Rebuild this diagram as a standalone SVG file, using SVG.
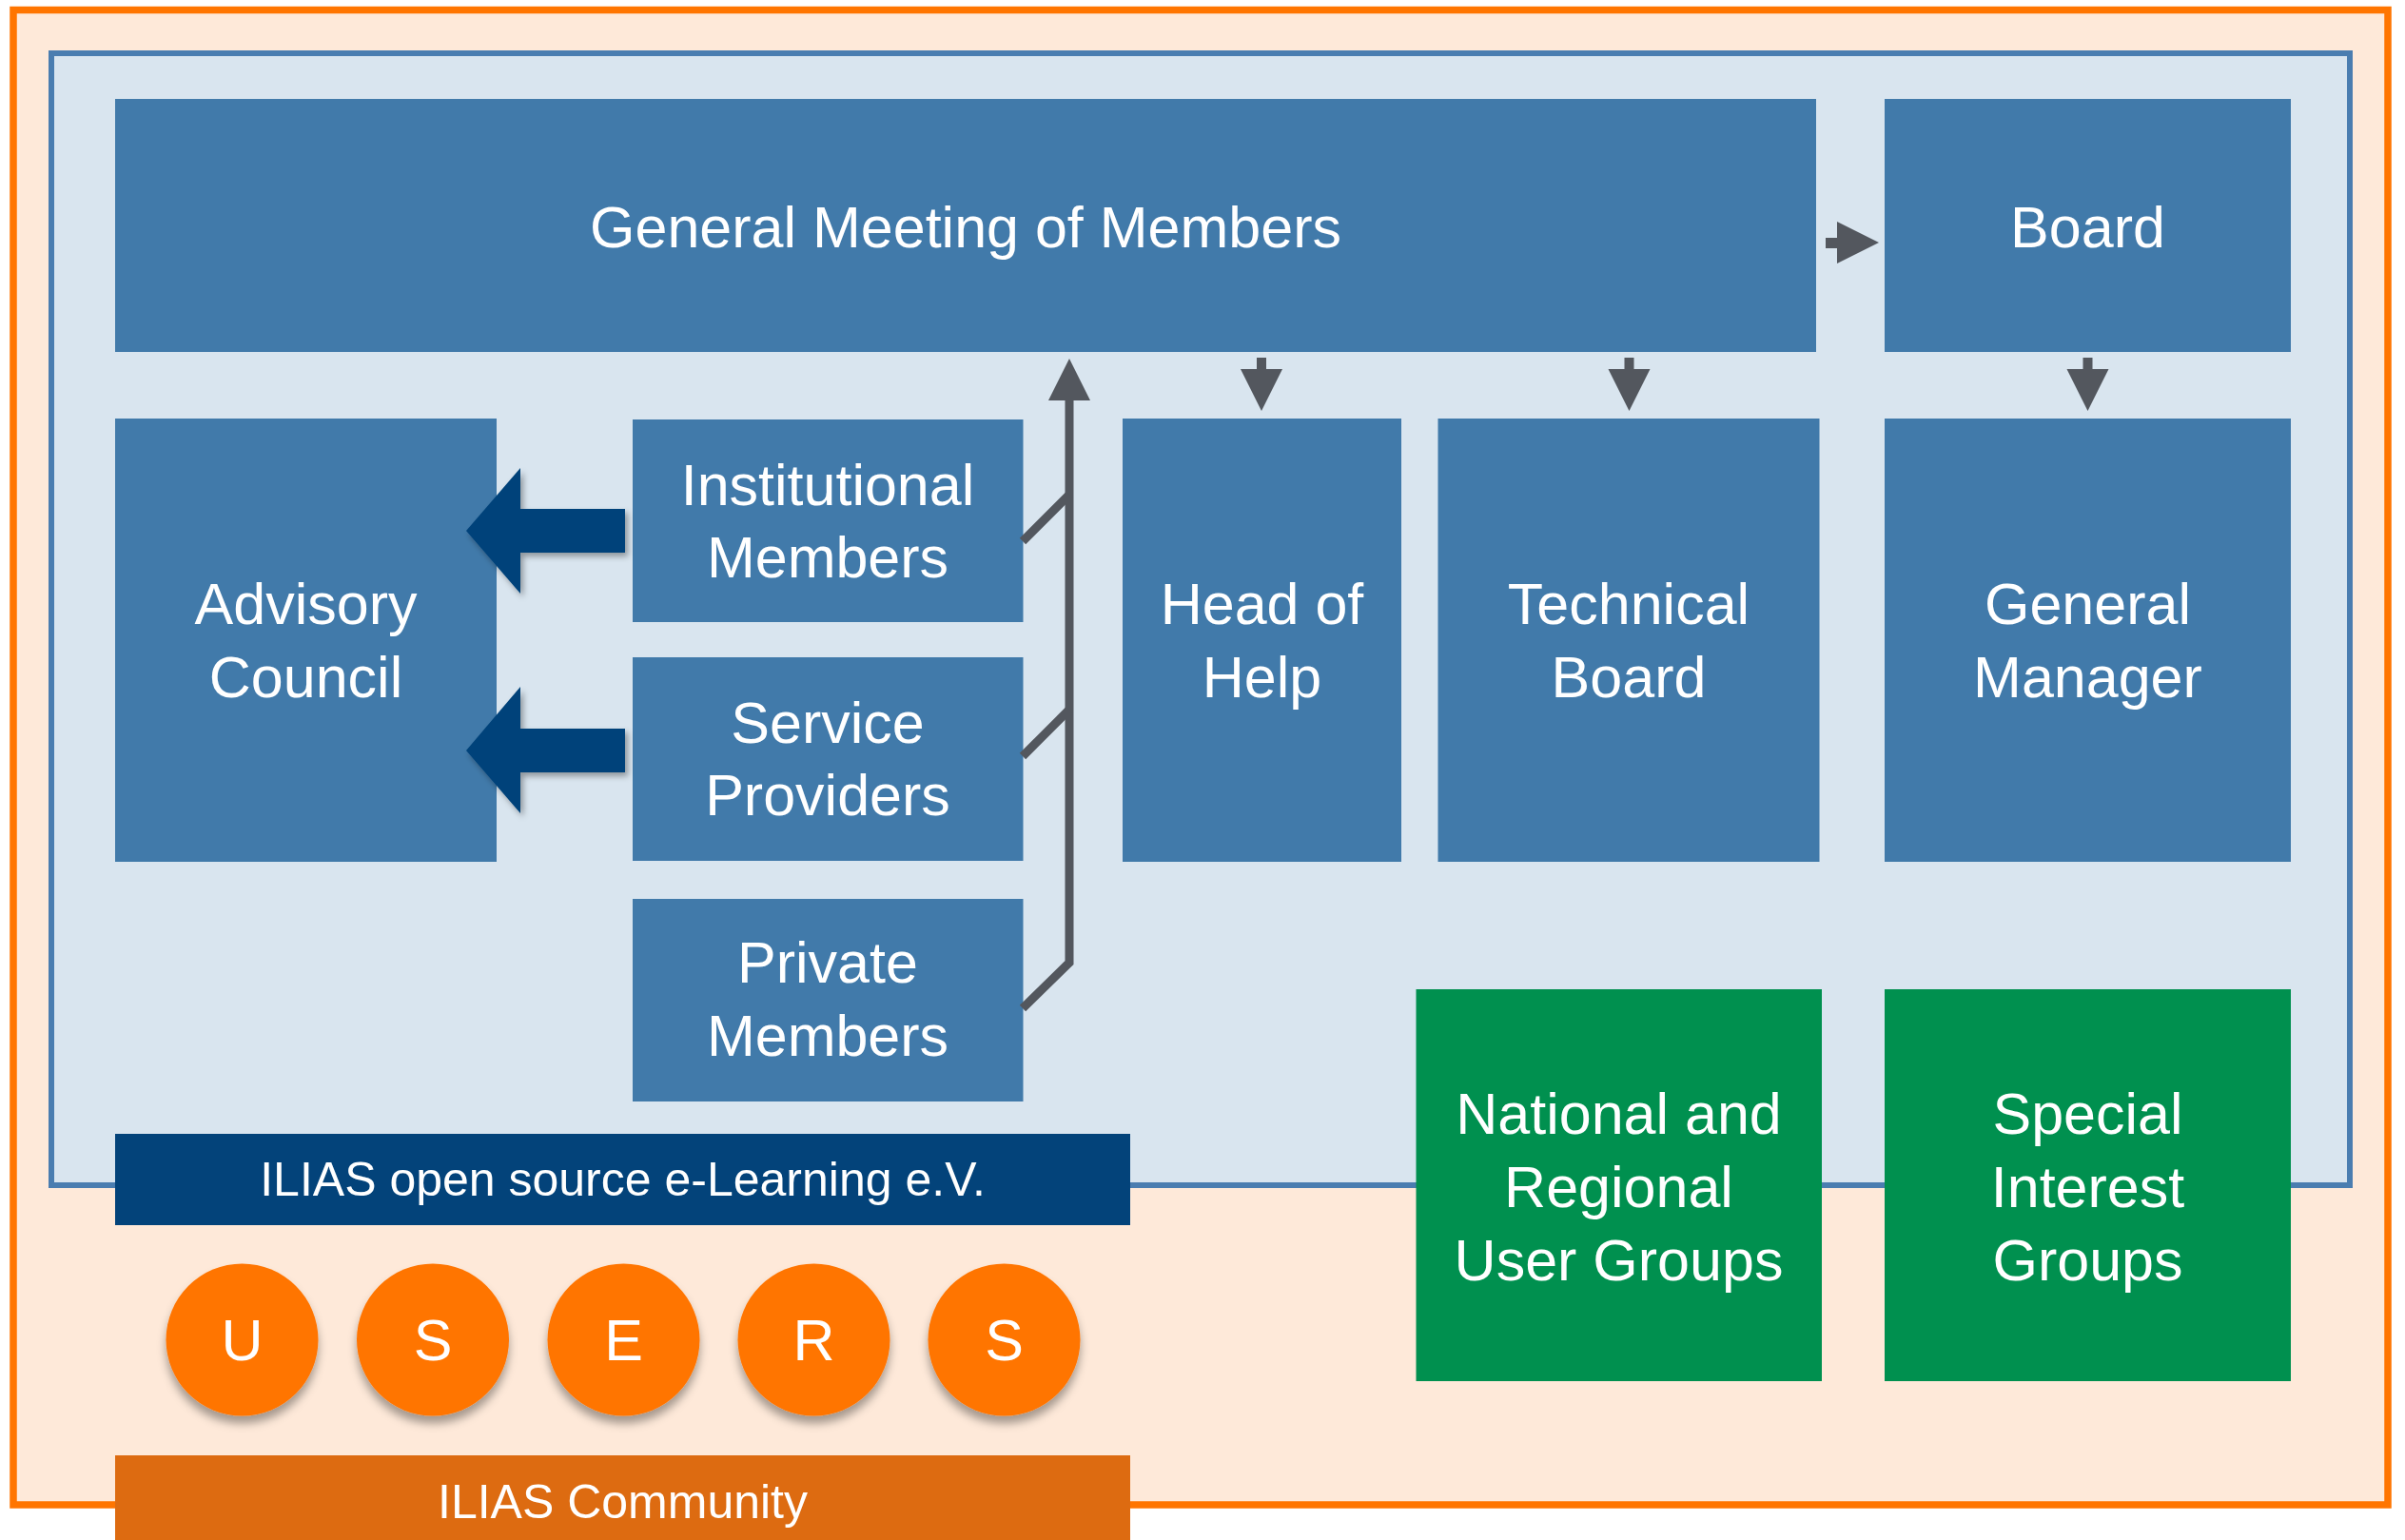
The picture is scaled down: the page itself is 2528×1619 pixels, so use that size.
<svg xmlns="http://www.w3.org/2000/svg" width="2528" height="1619" viewBox="0 0 2528 1619">
<defs>
<style>
.box{fill:#417AAA}
.green{fill:#00904F}
.t{font-family:"Liberation Sans",Arial,sans-serif;font-size:61px;fill:#FFFFFF;text-anchor:middle}
.s{font-family:"Liberation Sans",Arial,sans-serif;font-size:50px;fill:#FFFFFF;text-anchor:middle}
.gray{fill:#53575E}
.conn{fill:none;stroke:#53575E;stroke-width:9;stroke-linejoin:miter}
.navy{fill:#03437A}
.user{fill:#FF7500}
</style>
<filter id="sh" x="-20%" y="-20%" width="150%" height="160%">
<feDropShadow dx="3" dy="4" stdDeviation="3" flood-color="#000" flood-opacity="0.35"/>
</filter>
<filter id="csh" x="-30%" y="-30%" width="160%" height="170%">
<feDropShadow dx="0" dy="8" stdDeviation="5" flood-color="#000" flood-opacity="0.35"/>
</filter>
</defs>
<rect x="0" y="0" width="2528" height="1619" fill="#FFFFFF"/>
<g id="community-frame">
<rect x="14" y="10.5" width="2496" height="1571.5" fill="#FEE9D9" stroke="#FF7500" stroke-width="7.5"/>
</g>
<g id="association-frame">
<rect x="54" y="56" width="2416" height="1190" fill="#D9E5EF" stroke="#4A7DB0" stroke-width="6"/>
</g>
<g id="general-meeting">
<rect class="box" x="121" y="104" width="1788" height="266"/>
<text class="t" x="1015" y="260">General Meeting of Members</text>
</g>
<g id="board">
<rect class="box" x="1981" y="104" width="427" height="266"/>
<text class="t" x="2194.5" y="260">Board</text>
</g>
<g id="advisory-council">
<rect class="box" x="121" y="440" width="401" height="466"/>
<text class="t" x="321.5" y="656">Advisory</text>
<text class="t" x="321.5" y="733">Council</text>
</g>
<g id="institutional-members">
<rect class="box" x="665" y="441" width="410.5" height="213"/>
<text class="t" x="870" y="531">Institutional</text>
<text class="t" x="870" y="607">Members</text>
</g>
<g id="service-providers">
<rect class="box" x="665" y="691" width="410.5" height="214"/>
<text class="t" x="870" y="781">Service</text>
<text class="t" x="870" y="857">Providers</text>
</g>
<g id="private-members">
<rect class="box" x="665" y="945" width="410.5" height="213"/>
<text class="t" x="870" y="1033">Private</text>
<text class="t" x="870" y="1110">Members</text>
</g>
<g id="head-of-help">
<rect class="box" x="1180" y="440" width="293" height="466"/>
<text class="t" x="1326.5" y="656">Head of</text>
<text class="t" x="1326.5" y="733">Help</text>
</g>
<g id="technical-board">
<rect class="box" x="1511.5" y="440" width="401" height="466"/>
<text class="t" x="1712" y="656">Technical</text>
<text class="t" x="1712" y="733">Board</text>
</g>
<g id="general-manager">
<rect class="box" x="1981" y="440" width="427" height="466"/>
<text class="t" x="2194.5" y="656">General</text>
<text class="t" x="2194.5" y="733">Manager</text>
</g>
<g id="connectors">
<polygon class="gray" points="1919,250 1931,250 1931,233 1975,255 1931,277 1931,261 1919,261"/>
<polygon class="gray" points="1321,376 1331,376 1331,388 1348,388 1326,432 1304,388 1321,388"/>
<polygon class="gray" points="1707.5,376 1717.5,376 1717.5,388 1734.5,388 1712.5,432 1690.5,388 1707.5,388"/>
<polygon class="gray" points="2189.5,376 2199.5,376 2199.5,388 2216.5,388 2194.5,432 2172.5,388 2189.5,388"/>
<polyline class="conn" points="1075,1060 1124,1012 1124,418"/>
<polyline class="conn" points="1075,569 1124,520"/>
<polyline class="conn" points="1075,795 1124,746"/>
<polygon class="gray" points="1124,377 1146,421 1102,421"/>
<polygon class="navy" filter="url(#sh)" points="490,558 547,492 547,535 657,535 657,581 547,581 547,624"/>
<polygon class="navy" filter="url(#sh)" points="490,789 547,722 547,766 657,766 657,812 547,812 547,855"/>
</g>
<g id="ilias-ev">
<rect x="121" y="1192" width="1067" height="96" fill="#03437A"/>
<text class="s" x="654.5" y="1257">ILIAS open source e-Learning e.V.</text>
</g>
<g id="national-regional-user-groups">
<rect class="green" x="1488.5" y="1040" width="426.5" height="412"/>
<text class="t" x="1701.5" y="1192">National and</text>
<text class="t" x="1701.5" y="1268.5">Regional</text>
<text class="t" x="1701.5" y="1345.5">User Groups</text>
</g>
<g id="special-interest-groups">
<rect class="green" x="1981" y="1040" width="427" height="412"/>
<text class="t" x="2194.5" y="1192">Special</text>
<text class="t" x="2194.5" y="1268.5">Interest</text>
<text class="t" x="2194.5" y="1345.5">Groups</text>
</g>
<g id="users">
<g id="user-u"><circle class="user" filter="url(#csh)" cx="254.5" cy="1408.5" r="80"/><text class="t" x="254.5" y="1430">U</text></g>
<g id="user-s1"><circle class="user" filter="url(#csh)" cx="455" cy="1408.5" r="80"/><text class="t" x="455" y="1430">S</text></g>
<g id="user-e"><circle class="user" filter="url(#csh)" cx="655.5" cy="1408.5" r="80"/><text class="t" x="655.5" y="1430">E</text></g>
<g id="user-r"><circle class="user" filter="url(#csh)" cx="855.5" cy="1408.5" r="80"/><text class="t" x="855.5" y="1430">R</text></g>
<g id="user-s2"><circle class="user" filter="url(#csh)" cx="1055.5" cy="1408.5" r="80"/><text class="t" x="1055.5" y="1430">S</text></g>
</g>
<g id="ilias-community">
<rect x="121" y="1530" width="1067" height="89" fill="#DD6B11"/>
<text class="s" x="654.5" y="1596">ILIAS Community</text>
</g>
</svg>
